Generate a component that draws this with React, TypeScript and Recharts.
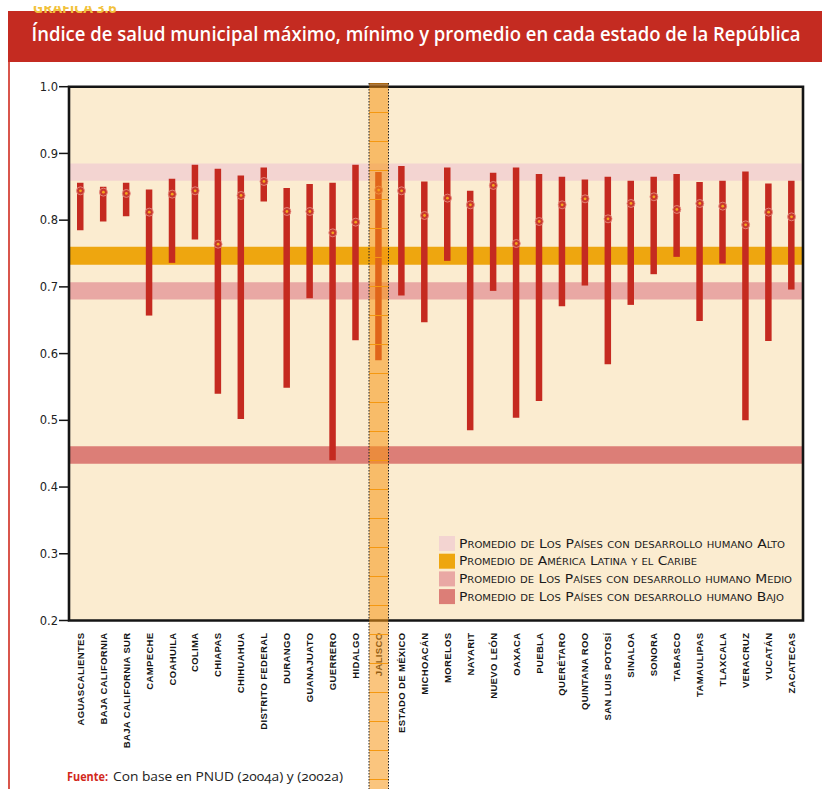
import React from "react";
import {
  ComposedChart,
  Bar,
  Line,
  XAxis,
  YAxis,
  ReferenceArea,
} from "recharts";

const STATES = [
  "AGUASCALIENTES", "BAJA CALIFORNIA", "BAJA CALIFORNIA SUR", "CAMPECHE", "COAHUILA",
  "COLIMA", "CHIAPAS", "CHIHUAHUA", "DISTRITO FEDERAL", "DURANGO", "GUANAJUATO",
  "GUERRERO", "HIDALGO", "JALISCO", "ESTADO DE MÉXICO", "MICHOACÁN", "MORELOS",
  "NAYARIT", "NUEVO LEÓN", "OAXACA", "PUEBLA", "QUERÉTARO", "QUINTANA ROO",
  "SAN LUIS POTOSÍ", "SINALOA", "SONORA", "TABASCO", "TAMAULIPAS", "TLAXCALA",
  "VERACRUZ", "YUCATÁN", "ZACATECAS",
];

const MAX_VALS = [
  0.856, 0.85, 0.856, 0.846, 0.862, 0.883, 0.877, 0.867, 0.879, 0.848, 0.854,
  0.856, 0.883, 0.872, 0.881, 0.858, 0.879, 0.844, 0.871, 0.879, 0.869, 0.865,
  0.861, 0.865, 0.859, 0.865, 0.869, 0.857, 0.859, 0.873, 0.855, 0.859,
];

const MIN_VALS = [
  0.785, 0.798, 0.806, 0.657, 0.736, 0.771, 0.54, 0.502, 0.828, 0.549, 0.683,
  0.44, 0.62, 0.59, 0.687, 0.647, 0.739, 0.485, 0.694, 0.504, 0.529, 0.671,
  0.702, 0.584, 0.673, 0.719, 0.745, 0.649, 0.735, 0.5, 0.619, 0.696,
];

const AVG_VALS = [
  0.844, 0.842, 0.84, 0.812, 0.839, 0.844, 0.764, 0.837, 0.858, 0.813, 0.813,
  0.781, 0.797, 0.845, 0.844, 0.807, 0.833, 0.823, 0.852, 0.765, 0.798, 0.823,
  0.832, 0.802, 0.825, 0.835, 0.816, 0.825, 0.821, 0.793, 0.812, 0.805,
];

const Y_TICKS = [0.2, 0.3, 0.4, 0.5, 0.6, 0.7, 0.8, 0.9, 1.0];

const BAND_LABELS = [
  "Promedio de Los Países con desarrollo humano Alto",
  "Promedio de América Latina y el Caribe",
  "Promedio de Los Países con desarrollo humano Medio",
  "Promedio de Los Países con desarrollo humano Bajo",
];
const BAND_LOW = [0.859, 0.733, 0.681, 0.435];
const BAND_HIGH = [0.885, 0.76, 0.707, 0.461];
const BAND_COLORS = ["#f3d4d1", "#eea60f", "#e9a8a4", "#dc7e77"];
const LEGEND_WIDTHS = [326, 238, 333, 325];

const data = STATES.map((s, i) => ({
  state: s,
  range: [MIN_VALS[i], MAX_VALS[i]],
  avg: AVG_VALS[i],
}));

function AvgDot(props: any) {
  const { cx, cy } = props;
  if (cx == null || cy == null) return null;
  return (
    <g>
      <circle cx={cx} cy={cy} r={4} fill="#c8372b" stroke="#e8958c" strokeWidth={0.8} />
      <circle cx={cx} cy={cy} r={1.4} fill="#f4a41c" />
    </g>
  );
}

function StateTick(props: any) {
  const { x, y, payload } = props;
  return (
    <text
      x={x}
      y={y}
      dy="0.35em"
      transform={`rotate(-90 ${x} ${y})`}
      textAnchor="end"
      fontFamily="'Liberation Sans', Arial, sans-serif"
      fontWeight="bold"
      fontSize={9.5}
      letterSpacing={0.35}
      fill="#141414"
    >
      {payload.value}
    </text>
  );
}

export default function App() {
  return (
    <div
      style={{
        position: "absolute",
        left: 0,
        top: 0,
        width: 822,
        height: 789,
        background: "#ffffff",
        overflow: "hidden",
      }}
    >
      <div style={{ position: "absolute", left: 0, top: 0 }}>
        <ComposedChart
          width={822}
          height={789}
          data={data}
          margin={{ top: 86.7, right: 19, bottom: 0, left: 29 }}
        >
          <XAxis
            dataKey="state"
            interval={0}
            tickLine={false}
            axisLine={false}
            tickSize={0}
            tickMargin={12}
            height={168.5}
            tick={<StateTick />}
          />
          <YAxis
            type="number"
            domain={[0.2, 1]}
            ticks={Y_TICKS}
            allowDataOverflow
            width={40}
            axisLine={false}
            tickSize={10}
            tickMargin={1}
            tickLine={{ stroke: "#141414", strokeWidth: 1.5 }}
            tickFormatter={(v: number) => v.toFixed(1)}
            tick={{ fontSize: 11.5, fill: "#222", fontFamily: "'DejaVu Sans', sans-serif" }}
          />
          <ReferenceArea y1={0.2} y2={1} fill="#fbecd0" fillOpacity={1} stroke="none" />
          {BAND_LABELS.map((name, i) => (
            <ReferenceArea
              key={name}
              y1={BAND_LOW[i]}
              y2={BAND_HIGH[i]}
              fill={BAND_COLORS[i]}
              fillOpacity={1}
              stroke="none"
            />
          ))}
          <Bar dataKey="range" fill="#c52a20" barSize={6.5} isAnimationActive={false} />
          <Line
            dataKey="avg"
            stroke="none"
            dot={<AvgDot />}
            activeDot={false}
            isAnimationActive={false}
          />
          <ReferenceArea y1={0.2} y2={1} fill="none" stroke="#141414" strokeWidth={2.6} />
        </ComposedChart>
      </div>

      <svg
        width={822}
        height={789}
        style={{ position: "absolute", left: 0, top: 0, pointerEvents: "none" }}
      >
        <defs>
          <clipPath id="capClip">
            <rect x={0} y={6} width={822} height={7} />
          </clipPath>
          <pattern id="jalLines" patternUnits="userSpaceOnUse" x={0} y={112} width={20} height={29}>
            <rect x={0} y={0} width={20} height={1} fill="#f59810" />
          </pattern>
        </defs>

        {/* header band */}
        <rect x={8} y={11} width={814} height={51} fill="#c42b21" />
        <text
          x={33}
          y={13}
          clipPath="url(#capClip)"
          fontFamily="'Open Sans', sans-serif"
          fontWeight={700}
          fontSize={14}
          fill="#f2c23c"
        >
          GRÁFICA 3.6
        </text>
        <text
          x={31.5}
          y={40.5}
          textLength={769}
          lengthAdjust="spacingAndGlyphs"
          fontFamily="'Open Sans', sans-serif"
          fontWeight={600}
          fontSize={19}
          fill="#ffffff"
        >
          Índice de salud municipal máximo, mínimo y promedio en cada estado de la República
        </text>
        <rect x={8} y={62} width={2} height={727} fill="#d9564c" />

        {/* Jalisco highlight */}
        <rect x={369} y={83} width={19.5} height={706} fill="rgba(246,150,20,0.55)" />
        <rect x={369} y={83} width={19.5} height={706} fill="url(#jalLines)" />
        <rect x={369} y={83} width={19.5} height={4} fill="rgba(120,70,20,0.6)" />
        <line x1={369} y1={83} x2={369} y2={789} stroke="#222" strokeWidth={1} strokeDasharray="1.5 1.5" />
        <line x1={388.5} y1={83} x2={388.5} y2={789} stroke="#222" strokeWidth={1} strokeDasharray="1.5 1.5" />

        {/* legend */}
        {BAND_LABELS.map((name, i) => (
          <g key={name}>
            <rect x={439} y={536 + i * 17.7} width={16} height={15} fill={BAND_COLORS[i]} />
            <text
              x={459}
              y={547.5 + i * 17.7}
              textLength={LEGEND_WIDTHS[i]}
              lengthAdjust="spacingAndGlyphs"
              fontFamily="'DejaVu Sans', sans-serif"
              fontSize={12.5}
              fill="#1a1a1a"
              style={{ fontVariant: "small-caps" }}
            >
              {name}
            </text>
          </g>
        ))}

        {/* source */}
        <text
          x={67}
          y={781}
          textLength={41}
          lengthAdjust="spacingAndGlyphs"
          fontFamily="'Open Sans', sans-serif"
          fontWeight={700}
          fontSize={12.5}
          fill="#d2281c"
        >
          Fuente:
        </text>
        <text
          x={113}
          y={781}
          textLength={230}
          lengthAdjust="spacingAndGlyphs"
          fontFamily="'Open Sans', sans-serif"
          fontSize={13}
          fill="#222"
          style={{ fontVariantNumeric: "oldstyle-nums" }}
        >
          Con base en PNUD (2004a) y (2002a)
        </text>
      </svg>
    </div>
  );
}
